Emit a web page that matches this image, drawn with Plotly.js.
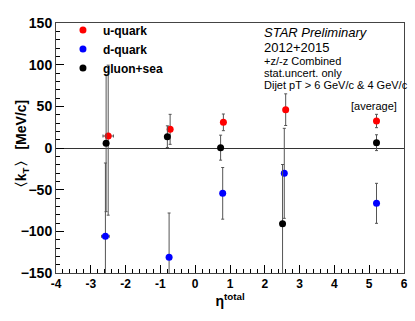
<!DOCTYPE html>
<html>
<head>
<meta charset="utf-8">
<script src="https://cdn.plot.ly/plotly-3.0.1.min.js"></script>
<style>html,body{margin:0;padding:0;background:#fff;}#chart{width:415px;height:321px;}</style>
</head>
<body>
<div id="chart"></div>
<script>
// u-quark
const etaU = [-2.50, -0.72, 0.81, 2.60, 5.21];
const kU = [14.4, 22.4, 30.8, 46.0, 32.4];
const kUerrPlus = [85, 18, 10, 19, 8];
const kUerrMinus = [95, 18, 10, 19, 8];
const etaUerr = [0.15, 0, 0, 0, 0];
// d-quark
const etaD = [-2.58, -0.75, 0.79, 2.56, 5.21];
const kD = [-106, -131, -54.4, -30.4, -66.4];
const kDerr = [88, 53, 31, 54, 24];
const etaDerr = [0.11, 0, 0, 0, 0];
// gluon+sea
const etaG = [-2.56, -0.80, 0.73, 2.51, 5.21];
const kG = [5.6, 13.6, 0.4, -90.8, 6.4];
const kGerr = [82, 13, 15, 71, 9.5];
const etaGerr = [0, 0, 0, 0.05, 0];

const xTicks = [-4, -3, -2, -1, 0, 1, 2, 3, 4, 5, 6];
const yTicks = [-150, -100, -50, 0, 50, 100, 150];

const errColor = '#555';
function tr(name, x, y, ep, em, ex, color) {
  return {
    type: 'scatter', mode: 'markers', name: name, x: x, y: y,
    marker: {color: color, size: 7},
    error_y: {type: 'data', symmetric: false, array: ep, arrayminus: em, color: errColor, thickness: 1, width: 1.5},
    error_x: {type: 'data', array: ex, color: errColor, thickness: 1, width: 1.5},
    cliponaxis: true
  };
}
const data = [
  tr('u-quark', etaU, kU, kUerrPlus, kUerrMinus, etaUerr, '#ff0000'),
  tr('d-quark', etaD, kD, kDerr, kDerr, etaDerr, '#0000ff'),
  tr('gluon+sea', etaG, kG, kGerr, kGerr, etaGerr, '#000000')
];
const fontB = {family: 'Liberation Sans, Arial, sans-serif', color: '#000', weight: 'bold'};
const textFont = {family: 'Liberation Sans, Arial, sans-serif', color: '#000'};
function note(text, y, size, x, anchor) {
  return {xref: 'paper', yref: 'paper', x: x, y: y, xanchor: anchor, yanchor: 'middle', showarrow: false,
    text: text, font: Object.assign({size: size}, textFont)};
}
const layout = {
  width: 415, height: 321,
  margin: {l: 56, r: 11, t: 23, b: 48},
  paper_bgcolor: '#fff', plot_bgcolor: '#fff',
  showlegend: true,
  legend: {x: 0.02, y: 1.03, xanchor: 'left', yanchor: 'top', bgcolor: 'rgba(0,0,0,0)',
    font: Object.assign({size: 12}, fontB), tracegroupgap: 0, itemwidth: 30},
  xaxis: {
    range: [-4, 6], tickvals: xTicks, ticktext: xTicks.map(String),
    ticks: 'inside', ticklen: 8, tickcolor: '#000', showgrid: false, zeroline: false,
    showline: true, mirror: true, linecolor: '#444', linewidth: 1,
    tickfont: Object.assign({size: 12}, fontB),
    minor: {dtick: 0.2, ticks: 'inside', ticklen: 4, tickcolor: '#000', showgrid: false},
    title: {text: 'η<sup>total</sup>', font: Object.assign({size: 14}, fontB), standoff: 2}
  },
  yaxis: {
    range: [-150, 150], tickvals: yTicks, ticktext: yTicks.map(v => v < 0 ? '\u2212' + Math.abs(v) : String(v)),
    ticks: 'inside', ticklen: 8, tickcolor: '#000', showgrid: false,
    zeroline: true, zerolinecolor: '#333', zerolinewidth: 1,
    showline: true, mirror: true, linecolor: '#444', linewidth: 1,
    tickfont: Object.assign({size: 14}, fontB),
    minor: {dtick: 10, ticks: 'inside', ticklen: 4, tickcolor: '#000', showgrid: false}
  },
  annotations: [
    {xref: 'paper', yref: 'paper', x: -0.097, y: 0.5, xanchor: 'center', yanchor: 'middle', showarrow: false,
     textangle: -90, text: '〈k<sub>T</sub>〉 [MeV/c]', font: Object.assign({size: 14}, fontB)},
    note('<i>STAR Preliminary</i>', 0.964, 13, 0.592, 'left'),
    note('2012+2015', 0.9, 13, 0.592, 'left'),
    note('+z/-z Combined', 0.848, 11, 0.592, 'left'),
    note('stat.uncert. only', 0.8, 11, 0.592, 'left'),
    note('Dijet pT > 6 GeV/c &amp; 4 GeV/c', 0.752, 11, 0.592, 'left'),
    note('[average]', 0.668, 11, 0.985, 'right')
  ]
};
Plotly.newPlot('chart', data, layout, {displayModeBar: false, staticPlot: true});
</script>
</body>
</html>
